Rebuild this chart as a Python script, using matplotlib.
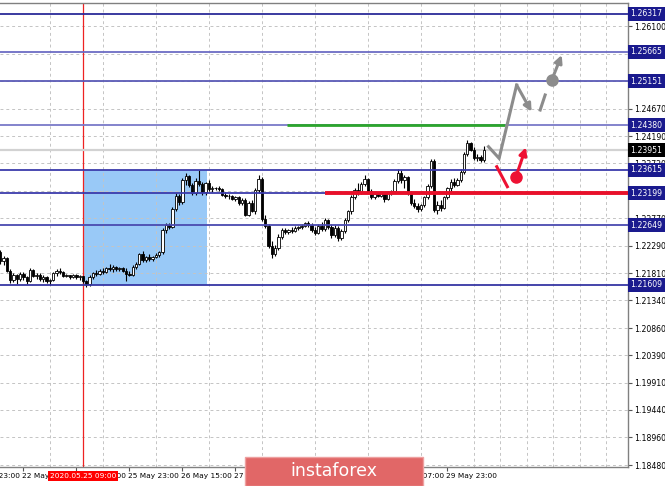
import numpy as np
import matplotlib
matplotlib.use('Agg')
import matplotlib.pyplot as plt
from matplotlib.patches import Rectangle
import matplotlib.transforms as mtransforms

# hourly bars, index 0 = 22 May 15:00
bar_start = -7
first_open = 1.2219
highs = [1.2222, 1.2212, 1.2210, 1.2188, 1.2182, 1.2180, 1.2183, 1.2184, 1.2177, 1.2190,
         1.2189, 1.2182, 1.2181, 1.2178, 1.2177, 1.2172, 1.2183, 1.2189, 1.2190, 1.2186,
         1.2180, 1.2179, 1.2180, 1.2180, 1.2179, 1.2177, 1.2170, 1.2178, 1.2184, 1.2187,
         1.2189, 1.2190, 1.2193, 1.2198, 1.2195, 1.2194, 1.2193, 1.2192, 1.2190, 1.2186,
         1.2195, 1.2200, 1.2217, 1.2220, 1.2212, 1.2214, 1.2212, 1.2216, 1.2220, 1.2260,
         1.2269, 1.2268, 1.2296, 1.2320, 1.2319, 1.2346, 1.2355, 1.2352, 1.2338, 1.2347,
         1.2360, 1.2340, 1.2340, 1.2343, 1.2333, 1.2332, 1.2333, 1.2329, 1.2322, 1.2319,
         1.2318, 1.2316, 1.2315, 1.2312, 1.2312, 1.2307, 1.2308, 1.2330, 1.2352, 1.2349,
         1.2282, 1.2267, 1.2238, 1.2230, 1.2250, 1.2260, 1.2260, 1.2259, 1.2261, 1.2263,
         1.2264, 1.2266, 1.2270, 1.2272, 1.2268, 1.2262, 1.2267, 1.2270, 1.2277, 1.2275,
         1.2266, 1.2265, 1.2263, 1.2258, 1.2278, 1.2292, 1.2318, 1.2330, 1.2338, 1.2340,
         1.2352, 1.2347, 1.2328, 1.2322, 1.2323, 1.2322, 1.2322, 1.2325, 1.2326, 1.2345,
         1.2362, 1.2360, 1.2352, 1.2350, 1.2325, 1.2310, 1.2303, 1.2302, 1.2316, 1.2336,
         1.2379, 1.2380, 1.2306, 1.2308, 1.2316, 1.2332, 1.2345, 1.2346, 1.2346, 1.2362,
         1.2392, 1.2413, 1.2410, 1.2400, 1.2388, 1.2386, 1.2402]
lows = [1.2198, 1.2195, 1.2183, 1.2164, 1.2166, 1.2163, 1.2168, 1.2170, 1.2163, 1.2166,
        1.2174, 1.2172, 1.2168, 1.2166, 1.2165, 1.2161, 1.2168, 1.2176, 1.2180, 1.2174,
        1.2175, 1.2172, 1.2173, 1.2171, 1.2170, 1.2165, 1.2158, 1.2160, 1.2172, 1.2176,
        1.2178, 1.2180, 1.2181, 1.2185, 1.2184, 1.2186, 1.2185, 1.2184, 1.2168, 1.2176,
        1.2176, 1.2188, 1.2195, 1.2200, 1.2200, 1.2202, 1.2203, 1.2208, 1.2210, 1.2215,
        1.2252, 1.2258, 1.2260, 1.2290, 1.2300, 1.2302, 1.2335, 1.2331, 1.2317, 1.2318,
        1.2333, 1.2318, 1.2318, 1.2325, 1.2323, 1.2326, 1.2325, 1.2315, 1.2312, 1.2310,
        1.2308, 1.2307, 1.2300, 1.2300, 1.2280, 1.2280, 1.2287, 1.2285, 1.2320, 1.2272,
        1.2260, 1.2225, 1.2208, 1.2211, 1.2222, 1.2240, 1.2250, 1.2250, 1.2252, 1.2253,
        1.2256, 1.2258, 1.2261, 1.2262, 1.2253, 1.2248, 1.2249, 1.2255, 1.2255, 1.2258,
        1.2243, 1.2244, 1.2238, 1.2239, 1.2252, 1.2270, 1.2285, 1.2310, 1.2317, 1.2319,
        1.2333, 1.2320, 1.2310, 1.2311, 1.2313, 1.2314, 1.2305, 1.2308, 1.2317, 1.2321,
        1.2338, 1.2338, 1.2330, 1.2318, 1.2300, 1.2295, 1.2287, 1.2290, 1.2297, 1.2310,
        1.2330, 1.2288, 1.2285, 1.2290, 1.2293, 1.2310, 1.2320, 1.2332, 1.2333, 1.2340,
        1.2354, 1.2385, 1.2393, 1.2378, 1.2376, 1.2374, 1.2375]
closes = [1.2203, 1.2208, 1.2186, 1.2170, 1.2178, 1.2172, 1.2180, 1.2175, 1.2168, 1.2187,
          1.2177, 1.2179, 1.2171, 1.2175, 1.2167, 1.2170, 1.2181, 1.2185, 1.2183, 1.2177,
          1.2178, 1.2175, 1.2178, 1.2174, 1.2176, 1.2167, 1.2162, 1.2175, 1.2182, 1.2180,
          1.2186, 1.2183, 1.2191, 1.2188, 1.2192, 1.2189, 1.2190, 1.2186, 1.2180, 1.2178,
          1.2193, 1.2197, 1.2214, 1.2204, 1.2209, 1.2206, 1.2210, 1.2213, 1.2218, 1.2256,
          1.2265, 1.2262, 1.2293, 1.2316, 1.2305, 1.2343, 1.2350, 1.2334, 1.2320, 1.2342,
          1.2336, 1.2322, 1.2338, 1.2328, 1.2330, 1.2329, 1.2327, 1.2318, 1.2315, 1.2316,
          1.2311, 1.2313, 1.2304, 1.2309, 1.2283, 1.2304, 1.2290, 1.2326, 1.2345, 1.2276,
          1.2264, 1.2228, 1.2214, 1.2226, 1.2245, 1.2256, 1.2253, 1.2257, 1.2255, 1.2260,
          1.2262, 1.2264, 1.2268, 1.2265, 1.2256, 1.2252, 1.2263, 1.2258, 1.2273, 1.2262,
          1.2247, 1.2260, 1.2242, 1.2255, 1.2274, 1.2289, 1.2314, 1.2326, 1.2322, 1.2336,
          1.2345, 1.2324, 1.2314, 1.2319, 1.2316, 1.2320, 1.2310, 1.2322, 1.2324, 1.2342,
          1.2356, 1.2343, 1.2348, 1.2322, 1.2304, 1.2298, 1.2293, 1.2299, 1.2313, 1.2333,
          1.2376, 1.2292, 1.2300, 1.2295, 1.2313, 1.2329, 1.2340, 1.2335, 1.2343, 1.2358,
          1.2388, 1.2408, 1.2396, 1.2382, 1.2384, 1.2378, 1.2395]

level_prices = [1.26317, 1.25665, 1.25151, 1.24380, 1.23615, 1.23199, 1.22649, 1.21609]
level_colors = ['#2b2b99', '#6c6cc4', '#5a5ab6', '#7a7ac8', '#3b3bab', '#3b3bab', '#4a4ab0', '#3636a4']
bid_price = 1.23951

price_ticks = [1.26100, 1.25630, 1.25150, 1.24670, 1.24190, 1.23720, 1.23240, 1.22770, 1.22290,
               1.21810, 1.21340, 1.20860, 1.20390, 1.19910, 1.19440, 1.18960, 1.18480]
time_bars = [-16, 0, 16, 32, 48, 64, 80, 96, 112, 128]
time_labels = ['21 May 23:00', '22 May 15:00', '25 May 07:00', '25 May 23:00', '26 May 15:00',
               '27 May 07:00', '27 May 23:00', '28 May 15:00', '29 May 07:00', '29 May 23:00']
marker_bar = 18
marker_label = '2020.05.25 09:00'

# zone (blue box) and the two target lines
zone_bars = (18.2, 55.5)
zone_prices = (1.21609, 1.23615)
green_bars = (79.6, 145.4)
green_price = 1.24380
red_bars = (91.0, 182.4)
red_price = 1.23199

# forecast sketch
gray_path_x = [140.4, 143.6, 148.9]
gray_path_p = [1.24012, 1.23810, 1.25083]
gray_arrow = [(148.9, 1.25083), (153.4, 1.24620)]
gray_dash_x = [156.0, 157.5]
gray_dash_p = [1.24649, 1.24910]
gray_dot = (159.5, 1.25170)
gray_dot_tip = (162.5, 1.25605)
red_dash_x = [142.9, 146.1]
red_dash_p = [1.23664, 1.23317]
red_dot = (148.7, 1.23490)
red_dot_tip = (151.7, 1.24001)

fs = 5.6
fig = plt.figure(figsize=(6.65, 4.86), dpi=100)
ax = fig.add_axes([0, 0.0391, 0.9438, 0.9539])
ax.set_xlim(-7.06, 182.4)
ax.set_ylim(1.18447, 1.26501)

# grid
ax.set_yticks(price_ticks)
ax.set_yticklabels([f'{p:.5f}' for p in price_ticks])
ax.yaxis.tick_right()
ax.tick_params(axis='y', labelsize=fs, length=3, pad=1.5, width=0.8, color='#555555')
ax.set_xticks([b for b in time_bars if b >= 0])
ax.set_xticklabels([])
ax.set_xticks(np.arange(0, 183, 8), minor=True)
ax.tick_params(axis='x', which='major', length=3, width=0.8, color='#555555')
ax.tick_params(axis='x', which='minor', length=0)
grid_kw = dict(color='#c4c4c4', lw=0.7, ls=(0, (3, 3)))
ax.grid(True, axis='x', which='minor', **grid_kw)
ax.grid(True, axis='y', which='major', **grid_kw)
for s in ['top', 'right', 'bottom']:
    ax.spines[s].set_color('#808080')
    ax.spines[s].set_linewidth(1)
ax.spines['left'].set_visible(False)

# zone
ax.add_patch(Rectangle((zone_bars[0], zone_prices[0]), zone_bars[1] - zone_bars[0],
                       zone_prices[1] - zone_prices[0], fc='#99c9f7', ec='none', zorder=0.5))
ax.axvline(marker_bar, color='#ee2222', lw=0.9, zorder=1.6)

# bid line
ax.axhline(bid_price, color='#d2d2d2', lw=1.6, zorder=1.7)

# candles
x = np.arange(bar_start, bar_start + len(closes))
o = np.array([first_open] + closes[:-1])
c = np.array(closes)
up = c >= o
ax.vlines(x, lows, highs, color='black', lw=0.8, zorder=3)
ax.bar(x, np.maximum(np.abs(c - o), 0.00003), bottom=np.minimum(o, c), width=0.7,
       color=np.where(up, 'white', 'black'), edgecolor='black', lw=0.6, zorder=3.5)

# levels
for p, col in zip(level_prices, level_colors):
    ax.axhline(p, color=col, lw=1.3, zorder=4)
ax.plot(green_bars, [green_price] * 2, color='#2ca52c', lw=2, zorder=4.5, solid_capstyle='butt')
ax.plot(red_bars, [red_price] * 2, color='#e8102a', lw=2.8, zorder=4.5, solid_capstyle='butt')

# forecast
gcol = '#8c8c8c'
rcol = '#ee1133'
ax.plot(gray_path_x, gray_path_p, color=gcol, lw=2.2, zorder=5, solid_joinstyle='miter')
ax.annotate('', xy=gray_arrow[1], xytext=gray_arrow[0],
            arrowprops=dict(arrowstyle='-|>', color=gcol, lw=2.2, mutation_scale=11, shrinkA=0, shrinkB=0), zorder=5)
ax.plot(gray_dash_x, gray_dash_p, color=gcol, lw=2.2, zorder=5)
ax.plot(*gray_dot, 'o', color=gcol, ms=8, zorder=5)
ax.annotate('', xy=gray_dot_tip, xytext=gray_dot,
            arrowprops=dict(arrowstyle='-|>', color=gcol, lw=2.2, mutation_scale=11, shrinkA=0, shrinkB=0), zorder=5)
ax.plot(red_dash_x, red_dash_p, color=rcol, lw=2.2, zorder=5)
ax.plot(*red_dot, 'o', color=rcol, ms=8, zorder=5)
ax.annotate('', xy=red_dot_tip, xytext=red_dot,
            arrowprops=dict(arrowstyle='-|>', color=rcol, lw=2.2, mutation_scale=11, shrinkA=0, shrinkB=0), zorder=5)

# price labels on the right (they sit over the axis tick labels)
ytr = ax.get_yaxis_transform()
for p in level_prices:
    ax.text(1.0045, p, f'{p:.5f}', transform=ytr, fontsize=fs, color='white', va='center', ha='left',
            clip_on=False, zorder=6, bbox=dict(boxstyle='square,pad=0.32', fc='#1a1a8e', ec='none'))
ax.text(1.0045, bid_price, f'{bid_price:.5f}', transform=ytr, fontsize=fs, color='white', va='center',
        ha='left', clip_on=False, zorder=6, bbox=dict(boxstyle='square,pad=0.32', fc='black', ec='none'))

# time labels
xtr = mtransforms.blended_transform_factory(ax.transData, ax.transAxes)
for b, lab in zip(time_bars, time_labels):
    ax.text(b - 0.3, -0.0194, lab, transform=xtr, fontsize=5.3, ha='left', va='center', clip_on=False)
ax.text(marker_bar, -0.0194, marker_label, transform=xtr, fontsize=5.3, color='white', ha='center',
        va='center', clip_on=False, zorder=6, bbox=dict(boxstyle='square,pad=0.25', fc='#ff0000', ec='none'))

# watermark
fig.add_artist(Rectangle((245 / 665, 0), 177.5 / 665, 29 / 486, transform=fig.transFigure,
                         fc='#e16767', ec='#eea0a0', lw=1, zorder=10))
fig.text(333.5 / 665, 0.030, 'instaforex', color='white', fontsize=12.5, ha='center', va='center', zorder=11)

fig.savefig('out.png', dpi=100)
